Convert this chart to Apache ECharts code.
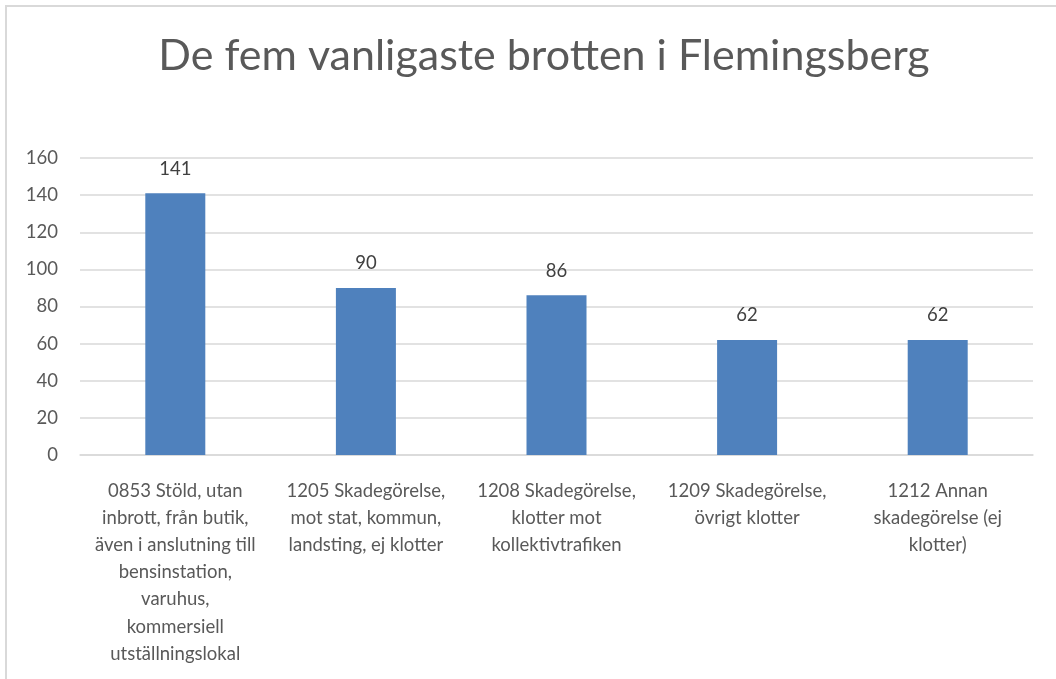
<!DOCTYPE html>
<html>
<head>
<meta charset="utf-8">
<script src="https://cdn.jsdelivr.net/npm/echarts@6/dist/echarts.min.js"></script>
<style>
html,body{margin:0;padding:0;background:#fff;}
#frame{position:absolute;left:5px;top:5px;width:1100px;height:700px;border-top:2px solid #d9d9d9;border-left:2px solid #d9d9d9;box-sizing:border-box;}
#chart{position:absolute;left:0;top:0;width:1056px;height:679px;}
</style>
</head>
<body>
<div id="frame"></div>
<div id="chart"></div>
<script>
const title = 'De fem vanligaste brotten i Flemingsberg';
const categories = [
  '0853 Stöld, utan\ninbrott, från butik,\näven i anslutning till\nbensinstation,\nvaruhus,\nkommersiell\nutställningslokal',
  '1205 Skadegörelse,\nmot stat, kommun,\nlandsting, ej klotter',
  '1208 Skadegörelse,\nklotter mot\nkollektivtrafiken',
  '1209 Skadegörelse,\növrigt klotter',
  '1212 Annan\nskadegörelse (ej\nklotter)'
];
const values = [141, 90, 86, 62, 62];
const yTicks = [0, 20, 40, 60, 80, 100, 120, 140, 160];

const chart = echarts.init(document.getElementById('chart'), null, {renderer: 'canvas'});
chart.setOption({
  backgroundColor: 'transparent',
  animation: false,
  title: {
    text: title,
    left: 539,
    textAlign: 'center',
    top: 30,
    textStyle: {fontFamily: 'Lato', fontSize: 43, fontWeight: 'normal', color: '#595959'}
  },
  grid: {left: 80, right: 23, top: 158, bottom: 224, containLabel: false},
  xAxis: {
    type: 'category',
    data: categories,
    axisLine: {show: true, lineStyle: {color: '#d9d9d9', width: 1.5}},
    axisTick: {show: false},
    axisLabel: {
      interval: 0,
      margin: 22,
      fontFamily: 'Lato',
      fontSize: 18.5,
      lineHeight: 27.2,
      color: '#595959',
      align: 'center'
    }
  },
  yAxis: {
    type: 'value',
    min: yTicks[0],
    max: yTicks[yTicks.length - 1],
    interval: 20,
    axisLine: {show: false},
    axisTick: {show: false},
    splitLine: {lineStyle: {color: '#d9d9d9', width: 1.5}},
    axisLabel: {margin: 22, fontFamily: 'Lato', fontSize: 18.5, color: '#595959'}
  },
  series: [{
    type: 'bar',
    data: values,
    barWidth: 60,
    itemStyle: {color: '#4f81bd'},
    label: {
      show: true,
      position: 'top',
      distance: 15,
      fontFamily: 'Lato',
      fontSize: 18.5,
      color: '#404040'
    }
  }]
});
</script>
</body>
</html>
